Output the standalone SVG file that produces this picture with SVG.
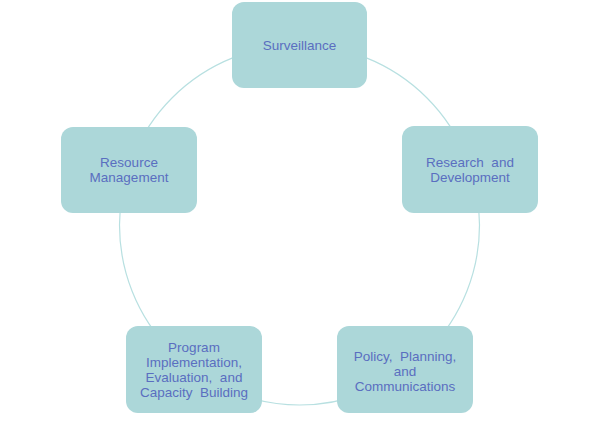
<svg xmlns="http://www.w3.org/2000/svg" width="599" height="421" viewBox="0 0 599 421">
<style>
.box{fill:#acd7d9;stroke:none}
.lbl{font-family:"Liberation Sans",Arial,sans-serif;font-size:13.5px;fill:#5a6ec0;text-anchor:middle;dominant-baseline:central;white-space:pre}
.ring{fill:none;stroke:#b8e0e1;stroke-width:1.2}
</style>
<rect width="599" height="421" fill="#ffffff"/>
<g id="connectors">
<circle class="ring" cx="299.5" cy="225" r="180"/>
</g>
<g id="surveillance">
<rect class="box" x="232" y="2" width="135" height="86" rx="12"/>
<text class="lbl" x="299.5" y="45">Surveillance</text>
</g>
<g id="research">
<rect class="box" x="402" y="126" width="136" height="87" rx="12"/>
<text class="lbl" x="470" y="162" xml:space="preserve">Research  and</text>
<text class="lbl" x="470" y="177">Development</text>
</g>
<g id="policy">
<rect class="box" x="337" y="326" width="136" height="87" rx="12"/>
<text class="lbl" x="405" y="356" xml:space="preserve">Policy,  Planning,</text>
<text class="lbl" x="405" y="371">and</text>
<text class="lbl" x="405" y="386">Communications</text>
</g>
<g id="program">
<rect class="box" x="126" y="326" width="136" height="87" rx="12"/>
<text class="lbl" x="194" y="347">Program</text>
<text class="lbl" x="194" y="362">Implementation,</text>
<text class="lbl" x="194" y="377" xml:space="preserve">Evaluation,  and</text>
<text class="lbl" x="194" y="392" xml:space="preserve">Capacity  Building</text>
</g>
<g id="resource">
<rect class="box" x="61" y="127" width="136" height="86" rx="12"/>
<text class="lbl" x="129" y="162">Resource</text>
<text class="lbl" x="129" y="177">Management</text>
</g>
</svg>
